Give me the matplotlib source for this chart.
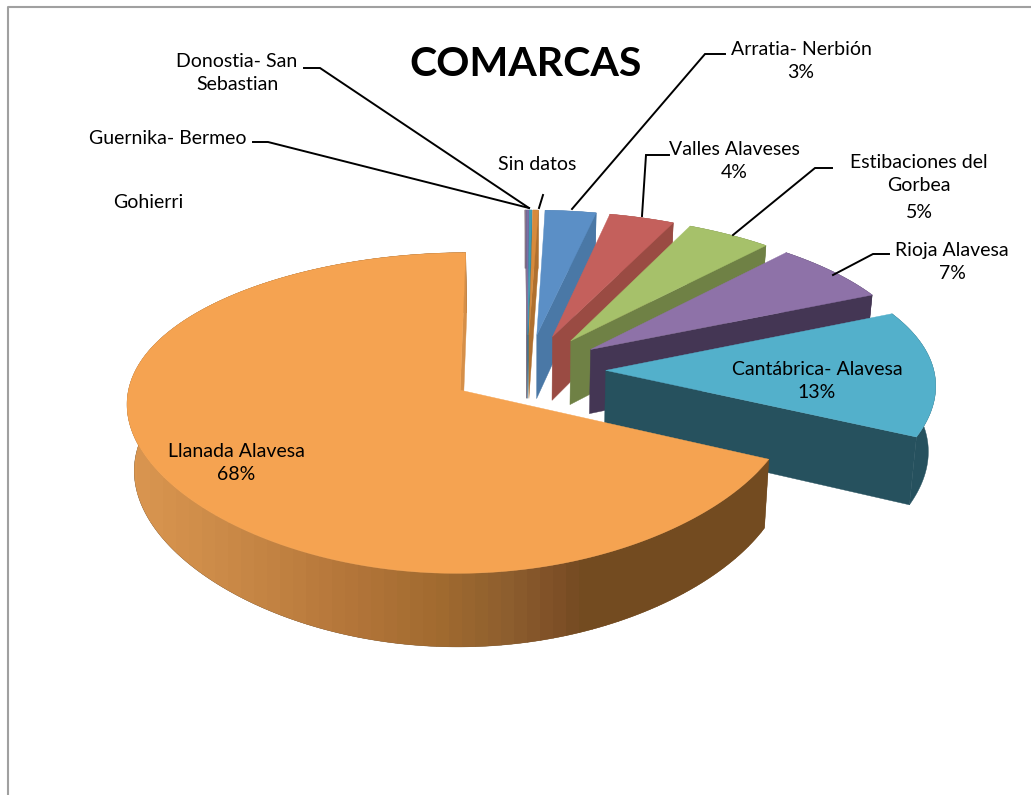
import numpy as np
import matplotlib
matplotlib.use("Agg")
import matplotlib.pyplot as plt
from matplotlib.patches import Polygon, Rectangle

plt.rcParams['font.family'] = ['Lato', 'DejaVu Sans']

# clockwise from the start angle, in percent
comarcas = ["Arratia- Nerbión", "Valles Alaveses", "Estibaciones del Gorbea", "Rioja Alavesa",
            "Cantábrica- Alavesa", "Llanada Alavesa", "Gohierri", "Guernika- Bermeo",
            "Donostia- San Sebastian", "Sin datos"]
valores = [2.95, 3.72, 4.72, 6.6, 13.25, 68.1, 0.08, 0.12, 0.15, 0.31]
top_colors = ["#5B8FC6", "#C4605C", "#A6C16A", "#8E72A8", "#53B0CB", "#F5A351",
              "#8E7B8C", "#7A6EA5", "#3E9BB5", "#D78A3C"]
side_colors = ["#4A78A6", "#9A4B43", "#6F8145", "#443654", "#26515E", "#734B20",
               "#6F6070", "#5F5580", "#2F7B90", "#B0702F"]

# shading of the big slice's outer wall, left to right on the page
band_x = [124, 211, 345, 435, 500, 550, 575, 780]
band_colors = ["#DA9650", "#CC8B48", "#B37539", "#A06A2F", "#8D5E2E", "#7E4F27", "#734B20", "#734B20"]

START = 2.0
CX, CY = 527, 370
RX, RY = 328, 151.4
PERSP = 0.14
EXPLODE = 0.24
DEPTH = 65
SHRINK = 0.982


def project(x, y, low=False):
    s = 1 / (1 + PERSP * y)
    sx = x * RX * (1 - 0.09 * y - 0.03 * y * y)
    sy = -y * RY * s
    if low:
        return CX + sx * SHRINK, CY + sy * SHRINK + DEPTH * s
    return CX + sx, CY + sy


def band_color(x):
    rgb = [np.interp(x, band_x, [matplotlib.colors.to_rgb(c)[i] for c in band_colors]) for i in range(3)]
    return tuple(rgb)


def draw_slice(ax, a0, a1, top, side, shaded=False):
    mid = np.radians((a0 + a1) / 2)
    ox, oy = EXPLODE * np.sin(mid), EXPLODE * np.cos(mid)
    angs = np.append(np.arange(a0, a1, 0.5), a1)
    xs = ox + np.sin(np.radians(angs))
    ys = oy + np.cos(np.radians(angs))

    up = [project(x, y) for x, y in zip(xs, ys)]
    lo = [project(x, y, True) for x, y in zip(xs[::-1], ys[::-1])]

    # outer wall, the big slice gets vertical bands clipped to the wall
    wall = Polygon(up + lo, closed=True, fc=side, ec=side, lw=0.3)
    ax.add_patch(wall)
    if shaded:
        for x in np.arange(band_x[0], band_x[-1], 13):
            ax.add_patch(Rectangle((x, 200), 13.5, 500, fc=band_color(x), ec="none", clip_path=wall))

    # radial wall at the end of the slice
    wall_col = "#D68F48" if shaded else side
    ax.add_patch(Polygon([project(ox, oy), up[-1], lo[0], project(ox, oy, True)],
                         closed=True, fc=wall_col, ec=wall_col, lw=0.3))

    # top face
    ax.add_patch(Polygon([project(ox, oy)] + up, closed=True, fc=top, ec=top, lw=0.3))


def main():
    fig = plt.figure(figsize=(10.31, 7.95), dpi=100)
    ax = fig.add_axes([0, 0, 1, 1])
    ax.set_xlim(0, 1031)
    ax.set_ylim(795, 0)
    ax.axis("off")

    # chart frame
    ax.plot([8, 8, 1031], [795, 7, 7], color="#A0A0A0", lw=1.5)

    total = sum(valores)
    ends = START + np.cumsum(valores) / total * 360
    starts = ends - np.array(valores) / total * 360

    # tiny slices sit at the back, the big one is in front
    order = [6, 7, 8, 9, 0, 1, 2, 3, 4, 5]
    for i in order:
        draw_slice(ax, starts[i], ends[i], top_colors[i], side_colors[i], shaded=(i == 5))

    leaders = [([304, 320, 529], [68, 68, 208]),
               ([253, 268, 529], [142, 142, 208]),
               ([543, 539], [195, 208]),
               ([725, 705, 572], [54, 54, 209]),
               ([669, 646, 642], [155, 155, 216]),
               ([832, 815, 733], [168, 168, 235]),
               ([889, 873, 833], [254, 254, 275])]
    for lx, ly in leaders:
        ax.plot(lx, ly, color="black", lw=1.4, solid_joinstyle="miter")

    ax.text(526, 65, "COMARCAS", ha="center", va="center", fontsize=29.6, fontweight="bold", color="black")

    labels = [(237, 73, "Donostia- San\nSebastian"),
              (168, 139, "Guernika- Bermeo"),
              (148, 203, "Gohierri"),
              (537, 164, "Sin datos"),
              (801, 61, "Arratia- Nerbión\n3%"),
              (734, 161, "Valles Alaveses\n4%"),
              (919, 174, "Estibaciones del\nGorbea"),
              (919, 213, "5%"),
              (952, 262, "Rioja Alavesa\n7%"),
              (817, 381, "Cantábrica- Alavesa\n13%"),
              (236, 463, "Llanada Alavesa\n68%")]
    for x, y, txt in labels:
        ax.text(x, y, txt, ha="center", va="center", fontsize=14, color="black", linespacing=1.45)

    fig.savefig("out.png", dpi=100)


if __name__ == "__main__":
    main()
